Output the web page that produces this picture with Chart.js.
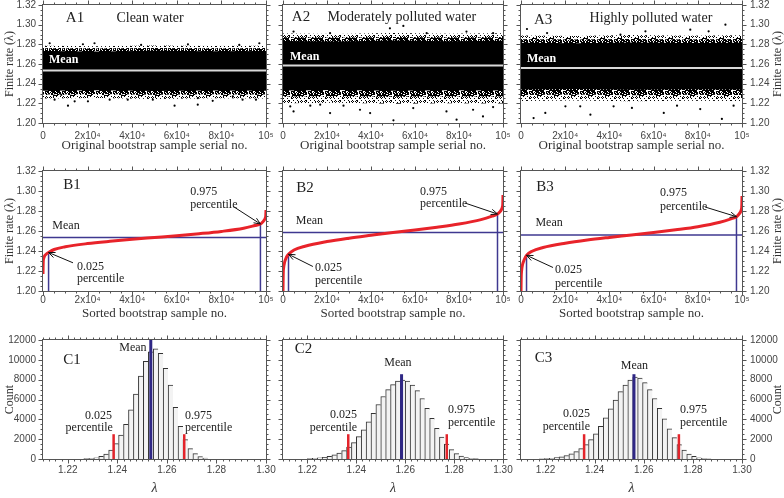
<!DOCTYPE html>
<html>
<head>
<meta charset="utf-8">
<script src="https://cdn.jsdelivr.net/npm/chart.js@4.4.1/dist/chart.umd.min.js"></script>
<style>
  html, body { margin: 0; padding: 0; background: #fff; }
  #fig { position: relative; width: 784px; height: 498px; overflow: hidden; background: #fff; }
  #fig canvas { position: absolute; }
</style>
</head>
<body>
<div id="fig"></div>
<script>
// ---- tick labels ----
var RANK_TICKS = [0, 20000, 40000, 60000, 80000, 100000];
var RANK_LABELS = ['0', '2x10⁴', '4x10⁴', '6x10⁴', '8x10⁴', '10⁵'];
var RATE_TICKS = [1.20, 1.22, 1.24, 1.26, 1.28, 1.30, 1.32];
var LAMBDA_TICKS = [1.22, 1.24, 1.26, 1.28, 1.30];
var LAMBDA_LABELS = ['1.22', '1.24', '1.26', '1.28', '1.30'];
var COUNT_TICKS = [0, 2000, 4000, 6000, 8000, 10000, 12000];

// ---- summary values per water group ----
var GROUPS = ['Clean water', 'Moderately polluted water', 'Highly polluted water'];
var MEANS = [1.2535, 1.2585, 1.2560];
var P025 = [1.2385, 1.2367, 1.2357];
var P975 = [1.2670, 1.2770, 1.2743];
var MEAN_BAR_TOP = [12000, 8550, 8550];

// ---- A: envelope of the raw bootstrap cloud, read at 5 sample positions ----
var ENV_X = [0, 25000, 50000, 75000, 100000];
var A1_CORE_HI = [1.2732, 1.2728, 1.2735, 1.2730, 1.2733];
var A1_CORE_LO = [1.2328, 1.2333, 1.2325, 1.2330, 1.2327];
var A1_MID_HI = [1.2760, 1.2757, 1.2762, 1.2758, 1.2761];
var A1_MID_LO = [1.2290, 1.2295, 1.2288, 1.2292, 1.2290];
var A1_EDGE_HI = [1.2785, 1.2780, 1.2788, 1.2782, 1.2786];
var A1_EDGE_LO = [1.2250, 1.2255, 1.2245, 1.2252, 1.2248];

var A2_CORE_HI = [1.2835, 1.2830, 1.2838, 1.2832, 1.2836];
var A2_CORE_LO = [1.2330, 1.2335, 1.2328, 1.2332, 1.2330];
var A2_MID_HI = [1.2872, 1.2868, 1.2875, 1.2870, 1.2873];
var A2_MID_LO = [1.2270, 1.2275, 1.2268, 1.2272, 1.2270];
var A2_EDGE_HI = [1.2910, 1.2905, 1.2915, 1.2908, 1.2912];
var A2_EDGE_LO = [1.2200, 1.2205, 1.2195, 1.2202, 1.2198];

var A3_CORE_HI = [1.2815, 1.2812, 1.2818, 1.2814, 1.2816];
var A3_CORE_LO = [1.2340, 1.2345, 1.2338, 1.2342, 1.2340];
var A3_MID_HI = [1.2852, 1.2848, 1.2855, 1.2850, 1.2853];
var A3_MID_LO = [1.2285, 1.2290, 1.2283, 1.2287, 1.2285];
var A3_EDGE_HI = [1.2890, 1.2885, 1.2895, 1.2888, 1.2892];
var A3_EDGE_LO = [1.2225, 1.2230, 1.2220, 1.2227, 1.2223];

// stray samples outside the band
var A1_OUT_X = [5200, 8200, 11200, 14200, 20150, 29900, 38000, 49250, 59000, 69400, 69400, 76100, 85100, 89500, 95500, 3000, 17900, 23100, 44000, 65000, 88000, 97000];
var A1_OUT_Y = [1.2237, 1.2287, 1.2176, 1.2220, 1.2220, 1.2237, 1.2237, 1.2237, 1.2176, 1.2253, 1.2186, 1.2226, 1.2270, 1.2237, 1.2237, 1.2811, 1.2801, 1.2811, 1.2794, 1.2800, 1.2794, 1.2811];
var A2_OUT_X = [3300, 4800, 12400, 16900, 21400, 27500, 35000, 39600, 50200, 59200, 74300, 78900, 86400, 90900, 95500, 4800, 21400, 48600, 54700, 65300, 83400, 95500];
var A2_OUT_Y = [1.2169, 1.2118, 1.2176, 1.2186, 1.2101, 1.2176, 1.2135, 1.2101, 1.2027, 1.2152, 1.2118, 1.2034, 1.2135, 1.2067, 1.2162, 1.2930, 1.2913, 1.2963, 1.2987, 1.2913, 1.2930, 1.2913];
var A3_OUT_X = [5700, 11000, 20100, 26800, 31400, 41900, 50200, 64600, 70600, 81100, 90900, 96200, 2700, 11800, 45000, 56300, 76600, 84900, 92500];
var A3_OUT_Y = [1.2050, 1.2102, 1.2170, 1.2170, 1.2085, 1.2170, 1.2153, 1.2102, 1.2176, 1.2142, 1.2041, 1.2176, 1.2956, 1.2915, 1.2898, 1.2932, 1.2949, 1.2932, 1.3000];

// ---- B: sorted bootstrap values ----
var SORT_RANK = [0, 100, 300, 700, 1500, 2500, 5000, 10000, 20000, 30000, 40000, 50000, 60000, 70000, 80000, 90000, 95000, 97500, 98500, 99300, 99700, 99900, 100000];
var B1_SORTED = [1.2170, 1.2290, 1.2325, 1.2350, 1.2370, 1.2385, 1.2415, 1.2442, 1.2474, 1.2497, 1.2517, 1.2535, 1.2553, 1.2573, 1.2596, 1.2628, 1.2655, 1.2670, 1.2690, 1.2712, 1.2732, 1.2755, 1.2810];
var B2_SORTED = [1.2000, 1.2170, 1.2235, 1.2285, 1.2335, 1.2367, 1.2410, 1.2448, 1.2494, 1.2528, 1.2557, 1.2585, 1.2610, 1.2638, 1.2670, 1.2714, 1.2748, 1.2770, 1.2790, 1.2815, 1.2840, 1.2870, 1.2960];
var B3_SORTED = [1.2000, 1.2140, 1.2210, 1.2265, 1.2315, 1.2357, 1.2398, 1.2435, 1.2478, 1.2510, 1.2536, 1.2560, 1.2585, 1.2612, 1.2643, 1.2688, 1.2722, 1.2743, 1.2765, 1.2790, 1.2815, 1.2850, 1.2950];

// ---- C: histograms (bin centre, count) ----
var C1_BINS = [1.2275, 1.2295, 1.2315, 1.2335, 1.2355, 1.2375, 1.2395, 1.2415, 1.2435, 1.2455, 1.2475, 1.2495, 1.2515, 1.2535, 1.2555, 1.2575, 1.2595, 1.2615, 1.2635, 1.2655, 1.2675, 1.2695, 1.2715, 1.2735, 1.2755];
var C1_COUNTS = [30, 60, 120, 260, 500, 900, 1550, 2400, 3500, 4950, 6550, 8350, 9850, 10800, 11100, 10650, 9150, 7450, 5200, 3300, 1950, 1050, 550, 250, 100];
var C2_BINS = [1.221, 1.223, 1.225, 1.227, 1.229, 1.231, 1.233, 1.235, 1.237, 1.239, 1.241, 1.243, 1.245, 1.247, 1.249, 1.251, 1.253, 1.255, 1.257, 1.259, 1.261, 1.263, 1.265, 1.267, 1.269, 1.271, 1.273, 1.275, 1.277, 1.279, 1.281, 1.283, 1.285, 1.287, 1.289];
var C2_COUNTS = [30, 60, 110, 180, 280, 420, 600, 850, 1200, 1650, 2250, 2950, 3750, 4600, 5500, 6300, 7000, 7500, 7850, 7950, 7850, 7450, 6900, 6100, 5100, 4100, 3100, 2200, 1500, 950, 550, 300, 150, 70, 30];
var C3_BINS = [1.2185, 1.2205, 1.2225, 1.2245, 1.2265, 1.2285, 1.2305, 1.2325, 1.2345, 1.2365, 1.2385, 1.2405, 1.2425, 1.2445, 1.2465, 1.2485, 1.2505, 1.2525, 1.2545, 1.2565, 1.2585, 1.2605, 1.2625, 1.2645, 1.2665, 1.2685, 1.2705, 1.2725, 1.2745, 1.2765, 1.2785, 1.2805, 1.2825, 1.2845, 1.2865];
var C3_COUNTS = [20, 40, 80, 140, 230, 350, 520, 750, 1050, 1450, 1950, 2550, 3300, 4150, 5050, 5950, 6800, 7450, 7950, 8250, 8150, 7700, 7000, 6100, 5100, 4050, 3050, 2150, 1450, 900, 500, 260, 130, 60, 25];

// ---- layout ----
var SERIF = '"Liberation Serif", "Times New Roman", serif';
var PANEL_FONT = '15px ' + SERIF;
var GROUP_FONT = '14px ' + SERIF;
var NOTE_FONT = '12px ' + SERIF;
var MEAN_A_FONT = 'bold 12px ' + SERIF;

var COLS = [
    { left: 0, w: 286, padL: 0, padR: 20, yPos: 'left', yW: 43 },
    { left: 263, w: 260, padL: 20, padR: 20, yPos: null, yW: 0 },
    { left: 501, w: 283, padL: 20, padR: 0, yPos: 'right', yW: 42 }
];
var ROWS = [
    { top: -10, h: 163, xH: 30, tickPad: 7, titlePad: 0.5 },
    { top: 156, h: 166, xH: 31, tickPad: 3, titlePad: 1.5 },
    { top: 325, h: 170, xH: 36, tickPad: 5, titlePad: 0 }
];

Chart.defaults.font.family = '"Liberation Sans", Arial, sans-serif';
Chart.defaults.font.size = 10;
Chart.defaults.color = '#444';

var fig = document.getElementById('fig');

function pts(xs, ys) {
    return xs.map(function (x, i) { return { x: x, y: ys[i] }; });
}

// dotted texture for the thinning edges of the sample cloud
function speckle(k) {
    var c = document.createElement('canvas');
    c.width = 17; c.height = 13;
    var g = c.getContext('2d');
    g.fillStyle = '#000';
    for (var x = 0; x < c.width; x++) {
        for (var y = 0; y < c.height; y++) {
            if ((x * 37 + y * 91 + x * y * 13) % 17 < k) g.fillRect(x, y, 1, 1);
        }
    }
    return g.createPattern(c, 'repeat');
}

function tickLoop(scale, step, majors, draw) {
    var n = Math.round((scale.max - scale.min) / step);
    for (var i = 0; i <= n; i++) {
        var v = scale.min + i * step;
        var major = majors.some(function (m) { return Math.abs(m - v) < step / 10; });
        draw(scale.getPixelForValue(v), major ? 4 : 2);
    }
}

// frame, outward ticks, text notes and arrows, all placed through the chart scales
function deco(spec) {
    return {
        id: 'deco',
        afterDraw: function (chart) {
            var ctx = chart.ctx, a = chart.chartArea;
            var xs = chart.scales.x, ys = chart.scales.y;
            ctx.save();
            ctx.strokeStyle = '#555';
            ctx.lineWidth = 1;
            var L = Math.round(a.left) - 0.5, R = Math.round(a.right) + 0.5;
            var T = Math.round(a.top) - 0.5, B = Math.round(a.bottom) + 0.5;
            ctx.strokeRect(L, T, R - L, B - T);
            ctx.beginPath();
            tickLoop(xs, spec.xMinor, spec.xMajors, function (p, len) {
                var x = Math.round(p) + 0.5;
                ctx.moveTo(x, B); ctx.lineTo(x, B + len);
                ctx.moveTo(x, T); ctx.lineTo(x, T - len);
            });
            tickLoop(ys, spec.yMinor, spec.yMajors, function (p, len) {
                var y = Math.round(p) + 0.5;
                ctx.moveTo(L, y); ctx.lineTo(L - len, y);
                ctx.moveTo(R, y); ctx.lineTo(R + len, y);
            });
            ctx.stroke();

            // arrows
            ctx.strokeStyle = '#111';
            (spec.arrows || []).forEach(function (ar) {
                var x1 = xs.getPixelForValue(ar[0]), y1 = ys.getPixelForValue(ar[1]);
                var x2 = xs.getPixelForValue(ar[2]), y2 = ys.getPixelForValue(ar[3]);
                var ang = Math.atan2(y2 - y1, x2 - x1);
                ctx.beginPath();
                ctx.moveTo(x1, y1); ctx.lineTo(x2, y2);
                ctx.moveTo(x2 - 7 * Math.cos(ang - 0.4), y2 - 7 * Math.sin(ang - 0.4));
                ctx.lineTo(x2, y2);
                ctx.lineTo(x2 - 7 * Math.cos(ang + 0.4), y2 - 7 * Math.sin(ang + 0.4));
                ctx.stroke();
            });

            // text notes
            ctx.textBaseline = 'middle';
            (spec.notes || []).forEach(function (n) {
                ctx.font = n.f || NOTE_FONT;
                ctx.fillStyle = n.c || '#222';
                ctx.textAlign = n.a || 'center';
                ctx.fillText(n.t, xs.getPixelForValue(n.x), ys.getPixelForValue(n.y));
            });

            // right-hand axis title, reading bottom to top
            if (spec.rightTitle) {
                ctx.save();
                ctx.translate(a.right + 36, (a.top + a.bottom) / 2);
                ctx.rotate(-Math.PI / 2);
                ctx.font = '12px ' + SERIF;
                ctx.fillStyle = '#333';
                ctx.textAlign = 'center';
                ctx.fillText(spec.rightTitle, 0, 0);
                ctx.restore();
            }
            ctx.restore();
        }
    };
}

function buildPanel(col, row, cfg) {
    var c = COLS[col], r = ROWS[row];
    var canvas = document.createElement('canvas');
    canvas.width = c.w;
    canvas.height = r.h;
    canvas.style.left = c.left + 'px';
    canvas.style.top = r.top + 'px';
    fig.appendChild(canvas);

    var xScale = {
        type: 'linear', position: 'bottom', min: cfg.xMin, max: cfg.xMax, offset: false,
        grid: { display: false, drawTicks: false }, border: { display: false },
        afterBuildTicks: function (s) { s.ticks = cfg.xTicks.map(function (v) { return { value: v }; }); },
        afterFit: function (s) { s.height = r.xH; },
        ticks: {
            autoSkip: false, maxRotation: 0, padding: r.tickPad, color: '#444',
            callback: function (v, i) { return cfg.xLabels[i]; }
        },
        title: {
            display: true, text: cfg.xTitle, color: '#333',
            font: cfg.xTitleFont || { family: SERIF, size: 13, lineHeight: 1 },
            padding: { top: 0, bottom: r.titlePad }
        }
    };
    var yScale = {
        type: 'linear', min: cfg.yMin, max: cfg.yMax,
        position: c.yPos || 'left', display: !!c.yPos,
        grid: { display: false, drawTicks: false }, border: { display: false },
        afterBuildTicks: function (s) { s.ticks = cfg.yTicks.map(function (v) { return { value: v }; }); },
        afterFit: function (s) { s.width = c.yW; },
        ticks: { padding: col === 0 ? 7 : 8, color: '#444', callback: cfg.yLabel },
        title: {
            display: col === 0, text: cfg.yTitle, color: '#333',
            font: { family: SERIF, size: 12, lineHeight: 1 },
            padding: { top: 3.5, bottom: 0 }
        }
    };

    new Chart(canvas, {
        type: cfg.type,
        data: { datasets: cfg.datasets },
        options: {
            responsive: false,
            animation: false,
            events: [],
            layout: { padding: { left: c.padL, right: c.padR, top: 15, bottom: 0 } },
            scales: { x: xScale, y: yScale },
            plugins: { legend: { display: false }, tooltip: { enabled: false } }
        },
        plugins: [deco({
            xMinor: cfg.xMinor, xMajors: cfg.xTicks,
            yMinor: cfg.yMinor, yMajors: cfg.yTicks,
            notes: cfg.notes, arrows: cfg.arrows,
            rightTitle: col === 2 ? cfg.yTitle : null
        })]
    });
}

function rateLabel(v) { return v.toFixed(2); }
function countLabel(v) { return String(v); }

function envLine(ys, fill, color) {
    return {
        type: 'line', data: pts(ENV_X, ys), borderWidth: 0, pointRadius: 0,
        fill: fill ? '+1' : false, backgroundColor: color || 'transparent', tension: 0
    };
}

var DENSE_DOTS = speckle(12);
var SPARSE_DOTS = speckle(5);

// ---- row A: raw bootstrap samples ----
var A_SETS = [
    [A1_CORE_HI, A1_CORE_LO, A1_MID_HI, A1_MID_LO, A1_EDGE_HI, A1_EDGE_LO, A1_OUT_X, A1_OUT_Y],
    [A2_CORE_HI, A2_CORE_LO, A2_MID_HI, A2_MID_LO, A2_EDGE_HI, A2_EDGE_LO, A2_OUT_X, A2_OUT_Y],
    [A3_CORE_HI, A3_CORE_LO, A3_MID_HI, A3_MID_LO, A3_EDGE_HI, A3_EDGE_LO, A3_OUT_X, A3_OUT_Y]
];
var A_NOTES = [
    [{ t: 'A1', x: 14350, y: 1.3068, f: PANEL_FONT }, { t: GROUPS[0], x: 48000, y: 1.3068, f: GROUP_FONT },
     { t: 'Mean', x: 2700, y: 1.2640, f: MEAN_A_FONT, c: '#fff', a: 'left' }],
    [{ t: 'A2', x: 8200, y: 1.3078, f: PANEL_FONT }, { t: GROUPS[1], x: 54000, y: 1.3078, f: GROUP_FONT },
     { t: 'Mean', x: 3200, y: 1.2670, f: MEAN_A_FONT, c: '#fff', a: 'left' }],
    [{ t: 'A3', x: 10000, y: 1.3050, f: PANEL_FONT }, { t: GROUPS[2], x: 58800, y: 1.3060, f: GROUP_FONT },
     { t: 'Mean', x: 2700, y: 1.2650, f: MEAN_A_FONT, c: '#fff', a: 'left' }]
];
A_SETS.forEach(function (s, k) {
    buildPanel(k, 0, {
        type: 'line',
        xMin: 0, xMax: 100000, xTicks: RANK_TICKS, xLabels: RANK_LABELS, xMinor: 5000,
        xTitle: 'Original bootstrap sample serial no.',
        yMin: 1.20, yMax: 1.32, yTicks: RATE_TICKS, yLabel: rateLabel, yMinor: 0.005,
        yTitle: 'Finite rate (λ)',
        notes: A_NOTES[k],
        datasets: [
            { type: 'line', data: [{ x: 0, y: MEANS[k] }, { x: 100000, y: MEANS[k] }],
              borderColor: '#d9d9d9', borderWidth: 2, pointRadius: 0 },
            { type: 'line', data: pts(s[6], s[7]), showLine: false, pointRadius: 1.1,
              pointBackgroundColor: '#000', pointBorderWidth: 0 },
            envLine(s[0], true, '#000'),
            envLine(s[1]),
            envLine(s[2], true, DENSE_DOTS),
            envLine(s[3]),
            envLine(s[4], true, SPARSE_DOTS),
            envLine(s[5])
        ]
    });
});

// ---- row B: sorted samples ----
var B_SORTED = [B1_SORTED, B2_SORTED, B3_SORTED];
var B_NOTES = [
    [{ t: 'B1', x: 13000, y: 1.3059, f: PANEL_FONT }, { t: 'Mean', x: 10300, y: 1.2655 },
     { t: '0.975', x: 66000, y: 1.2988, a: 'left' }, { t: 'percentile', x: 66000, y: 1.2857, a: 'left' },
     { t: '0.025', x: 15250, y: 1.2242, a: 'left' }, { t: 'percentile', x: 15250, y: 1.2120, a: 'left' }],
    [{ t: 'B2', x: 10000, y: 1.3029, f: PANEL_FONT }, { t: 'Mean', x: 12000, y: 1.2706 },
     { t: '0.975', x: 62300, y: 1.2988, a: 'left' }, { t: 'percentile', x: 62300, y: 1.2867, a: 'left' },
     { t: '0.025', x: 14500, y: 1.2232, a: 'left' }, { t: 'percentile', x: 14500, y: 1.2100, a: 'left' }],
    [{ t: 'B3', x: 10900, y: 1.3039, f: PANEL_FONT }, { t: 'Mean', x: 12700, y: 1.2686 },
     { t: '0.975', x: 62900, y: 1.2978, a: 'left' }, { t: 'percentile', x: 62900, y: 1.2837, a: 'left' },
     { t: '0.025', x: 15400, y: 1.2212, a: 'left' }, { t: 'percentile', x: 15400, y: 1.2070, a: 'left' }]
];
var B_ARROWS = [
    [[85200, 1.2847, 97500, P975[0]], [13450, 1.2282, 2500, P025[0]]],
    [[82700, 1.2880, 97500, P975[1]], [13600, 1.2245, 2500, P025[1]]],
    [[83300, 1.2840, 97500, P975[2]], [14500, 1.2235, 2500, P025[2]]]
];
B_SORTED.forEach(function (vals, k) {
    buildPanel(k, 1, {
        type: 'line',
        xMin: 0, xMax: 100000, xTicks: RANK_TICKS, xLabels: RANK_LABELS, xMinor: 5000,
        xTitle: 'Sorted bootstrap sample no.',
        yMin: 1.20, yMax: 1.32, yTicks: RATE_TICKS, yLabel: rateLabel, yMinor: 0.005,
        yTitle: 'Finite rate (λ)',
        notes: B_NOTES[k], arrows: B_ARROWS[k],
        datasets: [
            { type: 'line', data: pts(SORT_RANK, vals), borderColor: '#e8232a', borderWidth: 3,
              pointRadius: 0, cubicInterpolationMode: 'monotone' },
            { type: 'line', data: [{ x: 0, y: MEANS[k] }, { x: 100000, y: MEANS[k] }],
              borderColor: '#3f3890', borderWidth: 1.5, pointRadius: 0 },
            { type: 'line', data: [{ x: 2500, y: 1.20 }, { x: 2500, y: P025[k] }],
              borderColor: '#3f3890', borderWidth: 1.5, pointRadius: 0 },
            { type: 'line', data: [{ x: 97500, y: 1.20 }, { x: 97500, y: P975[k] }],
              borderColor: '#3f3890', borderWidth: 1.5, pointRadius: 0 }
        ]
    });
});

// ---- row C: histograms ----
var C_BINS = [C1_BINS, C2_BINS, C3_BINS];
var C_COUNTS = [C1_COUNTS, C2_COUNTS, C3_COUNTS];
var C_NOTES = [
    [{ t: 'C1', x: 1.2217, y: 10000, f: PANEL_FONT }, { t: 'Mean', x: 1.2518, y: 11190, a: 'right' },
     { t: '0.025', x: 1.2378, y: 4336, a: 'right' }, { t: 'percentile', x: 1.2382, y: 3126, a: 'right' },
     { t: '0.975', x: 1.2673, y: 4336, a: 'left' }, { t: 'percentile', x: 1.2673, y: 3126, a: 'left' }],
    [{ t: 'C2', x: 1.2184, y: 11092, f: PANEL_FONT }, { t: 'Mean', x: 1.2570, y: 9680 },
     { t: '0.025', x: 1.2403, y: 4437, a: 'right' }, { t: 'percentile', x: 1.2403, y: 3126, a: 'right' },
     { t: '0.975', x: 1.2775, y: 4941, a: 'left' }, { t: 'percentile', x: 1.2775, y: 3630, a: 'left' }],
    [{ t: 'C3', x: 1.2192, y: 10185, f: PANEL_FONT }, { t: 'Mean', x: 1.2562, y: 9378 },
     { t: '0.025', x: 1.2381, y: 4538, a: 'right' }, { t: 'percentile', x: 1.2381, y: 3227, a: 'right' },
     { t: '0.975', x: 1.2748, y: 4941, a: 'left' }, { t: 'percentile', x: 1.2748, y: 3630, a: 'left' }]
];
C_BINS.forEach(function (bins, k) {
    buildPanel(k, 2, {
        type: 'bar',
        xMin: 1.21, xMax: 1.30, xTicks: LAMBDA_TICKS, xLabels: LAMBDA_LABELS, xMinor: 0.0025,
        xTitle: 'λ', xTitleFont: { family: SERIF, size: 14, style: 'italic', lineHeight: 1 },
        yMin: 0, yMax: 12000, yTicks: COUNT_TICKS, yLabel: countLabel, yMinor: 500,
        yTitle: 'Count',
        notes: C_NOTES[k],
        datasets: [
            { type: 'line', data: [{ x: MEANS[k], y: 0 }, { x: MEANS[k], y: MEAN_BAR_TOP[k] }],
              borderColor: '#2f2785', borderWidth: 3, pointRadius: 0 },
            { type: 'line', data: [{ x: P025[k], y: 0 }, { x: P025[k], y: 2500 }],
              borderColor: '#e3242b', borderWidth: 2.5, pointRadius: 0 },
            { type: 'line', data: [{ x: P975[k], y: 0 }, { x: P975[k], y: 2500 }],
              borderColor: '#e3242b', borderWidth: 2.5, pointRadius: 0 },
            { type: 'bar', data: pts(bins, C_COUNTS[k]), backgroundColor: '#f3f3f3',
              borderColor: '#333', borderWidth: { top: 1, left: 1, right: 0, bottom: 0 },
              borderSkipped: false, barPercentage: 1, categoryPercentage: 1, grouped: false }
        ]
    });
});
</script>
</body>
</html>
